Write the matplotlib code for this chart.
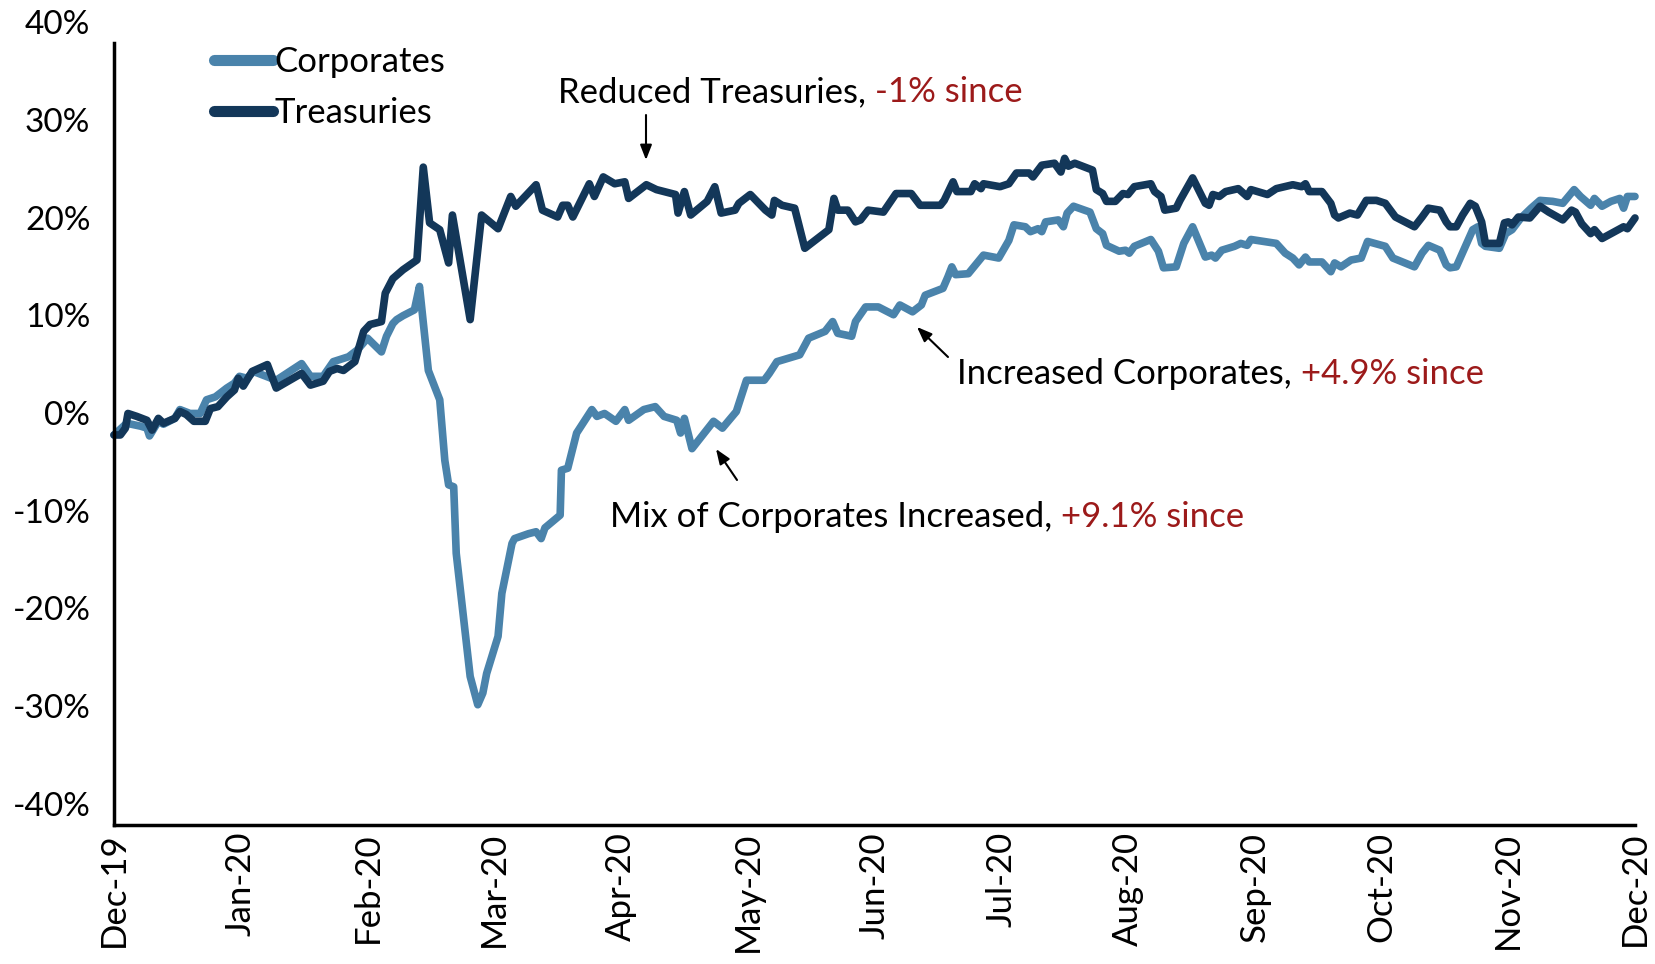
import matplotlib
matplotlib.use('Agg')
import matplotlib.pyplot as plt
from matplotlib.transforms import ScaledTranslation

plt.rcParams['font.family'] = ['Lato', 'DejaVu Sans']

months = ['Dec-19', 'Jan-20', 'Feb-20', 'Mar-20', 'Apr-20', 'May-20', 'Jun-20',
          'Jul-20', 'Aug-20', 'Sep-20', 'Oct-20', 'Nov-20', 'Dec-20']
y_ticks = [-40, -30, -20, -10, 0, 10, 20, 30, 40]

# position in months since Dec-19, cumulative return in %
tsy_x = [0.00, 0.05, 0.09, 0.11, 0.18, 0.26, 0.30, 0.35, 0.39, 0.48, 0.52, 0.57, 0.63, 0.72,
         0.76, 0.82, 0.89, 0.95, 0.98, 1.02, 1.09, 1.21, 1.28, 1.48, 1.55, 1.65, 1.70, 1.76,
         1.81, 1.90, 1.97, 2.02, 2.11, 2.14, 2.20, 2.28, 2.39, 2.44, 2.49, 2.57, 2.64, 2.67,
         2.73, 2.81, 2.90, 3.03, 3.13, 3.17, 3.33, 3.38, 3.50, 3.54, 3.58, 3.62, 3.75, 3.79,
         3.86, 3.95, 4.03, 4.06, 4.20, 4.28, 4.43, 4.45, 4.50, 4.55, 4.68, 4.74, 4.79, 4.90,
         4.93, 5.02, 5.14, 5.19, 5.21, 5.27, 5.37, 5.45, 5.50, 5.64, 5.68, 5.71, 5.79, 5.85,
         5.89, 5.95, 6.07, 6.17, 6.29, 6.36, 6.52, 6.55, 6.62, 6.65, 6.76, 6.79, 6.84, 6.86,
         6.99, 7.06, 7.12, 7.22, 7.25, 7.32, 7.42, 7.47, 7.50, 7.53, 7.58, 7.72, 7.75, 7.80,
         7.83, 7.90, 7.96, 8.00, 8.05, 8.18, 8.21, 8.26, 8.29, 8.38, 8.41, 8.51, 8.61, 8.64,
         8.67, 8.72, 8.77, 8.87, 8.94, 8.97, 9.10, 9.17, 9.30, 9.37, 9.40, 9.43, 9.53, 9.60,
         9.63, 9.66, 9.75, 9.81, 9.88, 9.96, 10.03, 10.11, 10.26, 10.32, 10.37, 10.46, 10.51,
         10.54, 10.59, 10.64, 10.70, 10.74, 10.79, 10.82, 10.93, 10.97, 11.00, 11.03, 11.08,
         11.17, 11.25, 11.32, 11.43, 11.50, 11.53, 11.58, 11.65, 11.68, 11.74, 11.84, 11.91,
         11.94, 12.00]
tsy_y = [-0.1, -0.1, 0.6, 2.1, 1.8, 1.4, 0.4, 1.6, 1.1, 1.6, 2.3, 2.0, 1.3, 1.3,
         2.6, 2.8, 3.8, 4.5, 5.7, 4.9, 6.4, 7.1, 4.7, 6.2, 5.0, 5.4, 6.4, 6.7,
         6.5, 7.4, 10.5, 11.2, 11.5, 14.4, 15.9, 16.8, 17.8, 27.3, 21.6, 20.9, 17.5, 22.4,
         17.8, 11.7, 22.4, 21.0, 24.3, 23.3, 25.5, 22.9, 22.2, 23.4, 23.4, 22.2, 25.6, 24.3,
         26.3, 25.6, 25.8, 24.1, 25.5, 25.0, 24.5, 22.6, 24.8, 22.4, 23.8, 25.3, 22.6, 22.9,
         23.6, 24.5, 22.9, 22.4, 23.9, 23.4, 23.1, 19.0, 19.5, 20.9, 24.1, 22.9, 22.9, 21.7,
         21.9, 22.9, 22.7, 24.6, 24.6, 23.4, 23.4, 23.9, 25.8, 24.8, 24.8, 25.6, 25.1, 25.6,
         25.3, 25.6, 26.7, 26.7, 26.3, 27.5, 27.7, 26.8, 28.2, 27.4, 27.7, 27.0, 25.0, 24.6,
         23.8, 23.8, 24.6, 24.5, 25.3, 25.6, 24.8, 24.3, 22.9, 23.1, 23.9, 26.2, 23.6, 23.4,
         24.5, 24.3, 24.8, 25.1, 24.3, 25.0, 24.5, 25.1, 25.5, 25.3, 25.6, 24.8, 24.8, 23.6,
         22.4, 22.1, 22.6, 22.4, 23.9, 23.9, 23.6, 22.2, 21.2, 22.2, 23.1, 22.9, 21.7,
         21.2, 21.2, 22.4, 23.6, 23.3, 21.7, 19.5, 19.5, 21.6, 21.7, 21.4, 22.2,
         22.1, 23.3, 22.7, 21.9, 22.9, 22.7, 21.5, 20.5, 20.9, 20.0, 20.7, 21.2,
         21.0, 22.1]

corp_x = [0.00, 0.10, 0.21, 0.26, 0.28, 0.35, 0.39, 0.48, 0.52, 0.60, 0.68, 0.73, 0.80, 0.89,
          0.95, 0.99, 1.05, 1.10, 1.18, 1.28, 1.48, 1.55, 1.65, 1.73, 1.85, 1.92, 2.00, 2.11,
          2.15, 2.20, 2.23, 2.28, 2.37, 2.41, 2.48, 2.57, 2.61, 2.64, 2.68, 2.70, 2.81, 2.87,
          2.91, 2.94, 3.03, 3.06, 3.14, 3.16, 3.27, 3.33, 3.37, 3.40, 3.52, 3.53, 3.58, 3.65,
          3.77, 3.81, 3.87, 3.96, 4.03, 4.06, 4.18, 4.27, 4.34, 4.44, 4.47, 4.50, 4.56, 4.73,
          4.80, 4.91, 4.99, 5.13, 5.17, 5.23, 5.41, 5.48, 5.61, 5.67, 5.71, 5.82, 5.85, 5.93,
          6.03, 6.15, 6.20, 6.30, 6.37, 6.40, 6.54, 6.58, 6.61, 6.64, 6.74, 6.86, 6.98, 7.06,
          7.10, 7.19, 7.23, 7.29, 7.32, 7.35, 7.45, 7.49, 7.52, 7.57, 7.70, 7.75, 7.80, 7.83,
          7.93, 7.98, 8.01, 8.05, 8.18, 8.24, 8.28, 8.38, 8.44, 8.51, 8.61, 8.66, 8.69, 8.74,
          8.84, 8.89, 8.94, 8.97, 9.17, 9.24, 9.30, 9.35, 9.40, 9.43, 9.53, 9.60, 9.63, 9.68,
          9.76, 9.84, 9.89, 10.03, 10.09, 10.26, 10.32, 10.37, 10.46, 10.51, 10.54, 10.59,
          10.72, 10.76, 10.79, 10.82, 10.93, 10.98, 11.03, 11.10, 11.18, 11.25, 11.35, 11.43,
          11.52, 11.57, 11.65, 11.68, 11.74, 11.81, 11.88, 11.91, 11.94, 12.00]
corp_y = [-0.1, 1.1, 0.8, 0.6, -0.2, 1.3, 1.0, 1.6, 2.5, 2.1, 2.1, 3.5, 3.8, 4.7,
          5.2, 5.9, 5.7, 6.4, 6.0, 5.5, 7.2, 5.9, 5.9, 7.4, 7.9, 8.6, 9.8, 8.4,
          10.0, 11.3, 11.7, 12.1, 12.7, 15.1, 6.5, 3.5, -2.7, -5.2, -5.4, -12.2, -24.8, -27.7,
          -26.5, -24.5, -20.7, -16.3, -11.2, -10.7, -10.2, -10.0, -10.7, -9.6, -8.3, -3.7, -3.5, 0.1,
          2.5, 1.8, 2.1, 1.3, 2.5, 1.4, 2.5, 2.8, 1.8, 1.4, 0.1, 1.6, -1.5, 1.3,
          0.6, 2.3, 5.5, 5.5, 6.2, 7.4, 8.1, 9.8, 10.5, 11.5, 10.3, 10.0, 11.5, 13.0,
          13.0, 12.2, 13.2, 12.5, 13.2, 14.2, 14.9, 16.1, 17.1, 16.3, 16.4, 18.3, 18.0, 19.8,
          21.4, 21.2, 20.7, 21.0, 20.7, 21.7, 21.9, 21.2, 22.6, 23.3, 22.7, 21.0, 20.5, 19.3,
          18.7, 18.8, 18.5, 19.2, 19.9, 18.7, 17.0, 17.1, 19.5, 21.2, 18.1, 18.3, 18.0, 18.8,
          19.2, 19.5, 19.3, 19.9, 19.5, 18.5, 18.0, 17.3, 18.1, 17.6, 17.6, 16.6, 17.5, 17.1,
          17.8, 18.0, 19.7, 19.2, 18.0, 17.1, 18.5, 19.3, 18.8, 17.3, 17.0, 17.1,
          20.9, 21.2, 19.5, 19.2, 19.0, 20.5, 20.9, 22.1, 23.1, 23.9, 23.8, 23.6,
          25.0, 24.3, 23.4, 24.1, 23.3, 23.8, 24.1, 23.1, 24.3, 24.3]

W, H = 1656, 964
corp_color = '#4a83ab'
tsy_color = '#133759'
red = '#9c1a1a'
fs = 25


def fpos(x, y):
    # pixel position (from top-left) -> figure fraction
    return (x / W, 1 - y / H)


fig = plt.figure(figsize=(W / 100, H / 100), dpi=100)
ax = fig.add_axes([114 / W, 1 - 825 / H, (1635 - 114) / W, (825 - 43) / H])

ax.plot(corp_x, corp_y, color=corp_color, lw=5.5, solid_joinstyle='round',
        solid_capstyle='round', label='Corporates', clip_on=False)
ax.plot(tsy_x, tsy_y, color=tsy_color, lw=5.5, solid_joinstyle='round',
        solid_capstyle='round', label='Treasuries', clip_on=False)

ax.set_xlim(0, 12)
ax.set_ylim(-40, 40)
ax.set_xticks(range(len(months)))
ax.set_xticklabels(months, rotation=90, fontsize=25)
ax.set_yticks(y_ticks)
ax.set_yticklabels([f'{v}%' for v in y_ticks], fontsize=24)
ax.tick_params(axis='x', length=0, pad=5)
ax.tick_params(axis='y', length=0, pad=17)
for lab in ax.get_yticklabels():
    lab.set_transform(lab.get_transform() + ScaledTranslation(0, 0.21, fig.dpi_scale_trans))

for s in ['top', 'right']:
    ax.spines[s].set_visible(False)
for s in ['left', 'bottom']:
    ax.spines[s].set_linewidth(2.5)

leg = ax.legend(loc='upper left', bbox_to_anchor=fpos(214, 46), bbox_transform=fig.transFigure,
                frameon=False, fontsize=fs, handlelength=1.7, handletextpad=0.05,
                labelspacing=0.55, borderaxespad=0, borderpad=0)
for h in leg.get_lines():
    h.set_linewidth(8)

fig.canvas.draw()


def two_tone(x, y, black, colored):
    t = fig.text(*fpos(x, y), black, fontsize=fs, va='baseline')
    fig.canvas.draw()
    bb = t.get_window_extent()
    fig.text(bb.x1 / fig.bbox.width, 1 - y / H, colored, color=red, fontsize=fs, va='baseline')


two_tone(558, 102, 'Reduced Treasuries, ', '-1% since')
two_tone(957, 384, 'Increased Corporates, ', '+4.9% since')
two_tone(610, 527, 'Mix of Corporates Increased, ', '+9.1% since')

arrow = dict(arrowstyle='-|>,head_length=0.9,head_width=0.35', color='black', lw=1.5,
             shrinkA=0, shrinkB=0)
ax.annotate('', xy=fpos(646, 160), xytext=fpos(646, 115), xycoords='figure fraction',
            textcoords='figure fraction', arrowprops=arrow)
ax.annotate('', xy=fpos(917, 327), xytext=fpos(948, 357), xycoords='figure fraction',
            textcoords='figure fraction', arrowprops=arrow)
ax.annotate('', xy=fpos(716, 449), xytext=fpos(737, 480), xycoords='figure fraction',
            textcoords='figure fraction', arrowprops=arrow)

fig.savefig('out.png', dpi=100)
